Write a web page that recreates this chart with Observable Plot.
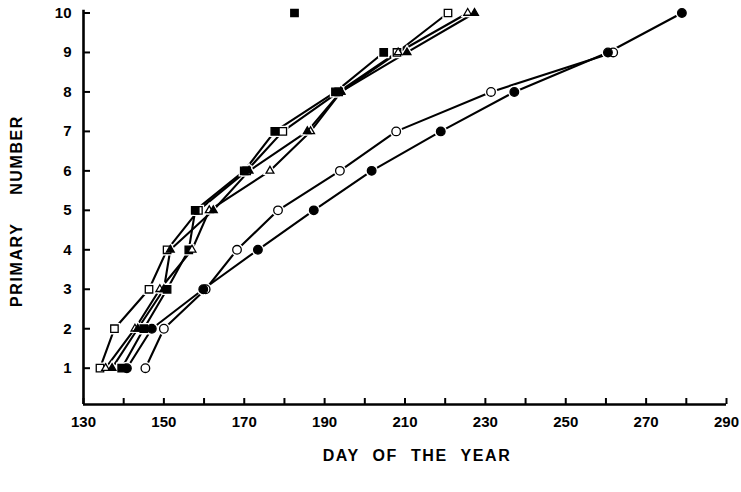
<!DOCTYPE html>
<html><head><meta charset="utf-8">
<script src="https://cdn.jsdelivr.net/npm/d3@7"></script>
<script src="https://cdn.jsdelivr.net/npm/@observablehq/plot@0.6"></script>
<style>body{margin:0;background:#fff} #chart{width:741px;height:492px}</style>
</head><body><div id="chart"></div>
<script>
// Primary number (y) reached on each day of the year (x)
const primaries = [1, 2, 3, 4, 5, 6, 7, 8, 9, 10];
const openSquareDays     = [134.1, 137.7, 146.3, 150.8, 158.6, 170.6, 179.6, 193.5, 208.0, 220.7];
const filledSquareDays   = [139.5, 145.0, 150.8, 156.2, 157.8, 170.0, 177.6, 192.7, 204.7];
const openTriangleDays   = [135.5, 142.8, 149.0, 157.0, 161.3, 176.4, 186.5, 194.1, 208.3, 225.6];
const filledTriangleDays = [137.1, 143.5, 150.0, 151.6, 162.3, 171.2, 185.7, 194.0, 210.5, 227.3];
const openCircleDays     = [145.4, 150.0, 160.4, 168.2, 178.4, 193.8, 207.8, 231.4, 261.8];
const filledCircleDays   = [140.8, 147.0, 159.8, 173.4, 187.3, 201.7, 218.9, 237.2, 260.5, 278.9];
// isolated filled square (not joined to its series)
const strayFilledSquare = [{day: 182.5, primary: 10}];

const xTicks = d3.range(130, 291, 10);
const xTickLabels = d3.range(130, 291, 20);
const yTicks = primaries;

const series = [
  {name: "open square", symbol: "square", filled: false, days: openSquareDays},
  {name: "filled square", symbol: "square", filled: true, days: filledSquareDays},
  {name: "open triangle", symbol: "triangle", filled: false, days: openTriangleDays},
  {name: "filled triangle", symbol: "triangle", filled: true, days: filledTriangleDays},
  {name: "open circle", symbol: "circle", filled: false, days: openCircleDays},
  {name: "filled circle", symbol: "circle", filled: true, days: filledCircleDays}
];
const rows = series.flatMap(s => s.days.map((d, i) => ({series: s.name, day: d, primary: primaries[i]})));
const sizeOf = {square: 4.2, triangle: 2.9, circle: 4.3};

const halo = (data, sym) => Plot.dot(data, {x: "day", y: "primary", symbol: sym, r: sizeOf[sym] + 0.8, fill: "#fff", stroke: "#fff", strokeWidth: 2.5});
const marker = (data, sym, filled) => Plot.dot(data, {x: "day", y: "primary", symbol: sym, r: sizeOf[sym], fill: filled ? "#000" : "#fff", stroke: "#000", strokeWidth: 1.3});

const plot = Plot.plot({
  width: 741, height: 492,
  marginLeft: 83, marginRight: 15, marginTop: 12.5, marginBottom: 88,
  x: {domain: [130, 290], label: null},
  y: {domain: [0.08, 10], label: null},
  style: {fontFamily: "'Liberation Sans', Arial, Helvetica, sans-serif", fontWeight: "bold", fontSize: "15px", color: "#000", background: "#fff", overflow: "visible"},
  marks: [
    Plot.axisX(xTicks, {tickSize: -6, strokeWidth: 2, tickFormat: () => ""}),
    Plot.axisX(xTickLabels, {tickSize: 0, tickPadding: 12, fontSize: 15}),
    Plot.axisY(yTicks, {tickSize: -7, strokeWidth: 2, tickPadding: 19, fontSize: 15}),
    Plot.ruleY([0.08], {strokeWidth: 2.6, stroke: "#000"}),
    Plot.ruleX([130], {y1: 0.08, y2: 10.07, strokeWidth: 2.6, stroke: "#000"}),
    Plot.line(rows, {x: "day", y: "primary", z: "series", stroke: "#000", strokeWidth: 2.1}),
    ...series.map(s => halo(s.days.map((d, i) => ({day: d, primary: primaries[i]})), s.symbol)),
    halo(strayFilledSquare, "square"),
    ...series.map(s => marker(s.days.map((d, i) => ({day: d, primary: primaries[i]})), s.symbol, s.filled)),
    marker(strayFilledSquare, "square", true)
  ]
});

const svg = d3.select(plot);
svg.append("text")
  .attr("x", 417).attr("y", 461)
  .attr("text-anchor", "middle")
  .style("font-family", "'Liberation Sans', Arial, sans-serif")
  .style("font-weight", "bold").style("font-size", "16px")
  .style("letter-spacing", "1.6px").style("word-spacing", "7px")
  .attr("fill", "#000")
  .text("DAY OF THE YEAR");
svg.append("text")
  .attr("transform", "translate(22,211) rotate(-90)")
  .attr("text-anchor", "middle")
  .style("font-family", "'Liberation Sans', Arial, sans-serif")
  .style("font-weight", "bold").style("font-size", "16px")
  .style("letter-spacing", "1.6px").style("word-spacing", "22px")
  .attr("fill", "#000")
  .text("PRIMARY NUMBER");

document.getElementById("chart").appendChild(plot);
</script>
</body></html>
